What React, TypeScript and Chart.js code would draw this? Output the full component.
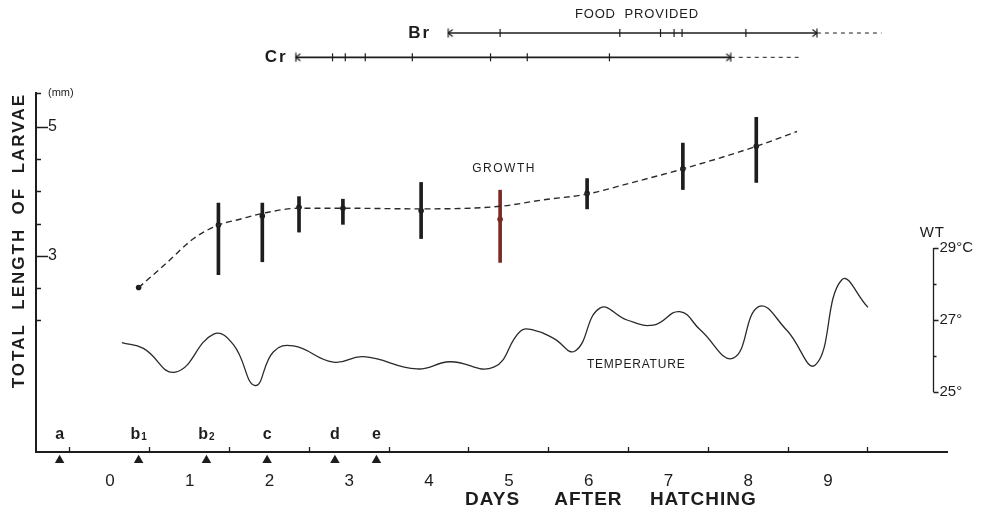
import React, { useEffect, useRef } from 'react';
import { Chart, registerables } from 'chart.js';

Chart.register(...registerables);

// ---------------- data ----------------
const dayLabels = ['0', '1', '2', '3', '4', '5', '6', '7', '8', '9'];

const growthDays = [0.86, 1.86, 2.41, 2.87, 3.42, 4.4, 5.39, 6.48, 7.68, 8.6];
const growthMean = [2.51, 3.48, 3.62, 3.755, 3.74, 3.7, 3.57, 3.97, 4.35, 4.7];
const growthHigh = [null, 3.82, 3.82, 3.92, 3.88, 4.14, 4.02, 4.2, 4.75, 5.15];
const growthLow = [null, 2.71, 2.91, 3.37, 3.49, 3.27, 2.9, 3.73, 4.03, 4.14];

const fitDays = [0.86, 1.21, 1.55, 1.86, 2.13, 2.41, 2.87, 3.42, 4.4, 5.39, 5.93, 6.48, 7.02, 7.68, 8.6, 9.11];
const fitLength = [2.51, 2.89, 3.27, 3.48, 3.57, 3.66, 3.74, 3.74, 3.73, 3.77, 3.87, 3.96, 4.13, 4.35, 4.7, 4.93];

const tempDays = [0.65, 0.92, 1.32, 1.8, 2.05, 2.32, 2.55, 2.8, 3.3, 3.68, 4.35, 4.76, 5.31, 5.64, 5.81, 6.06, 6.33, 6.64, 6.98, 7.31, 7.64, 7.9, 8.31, 8.63, 8.98, 9.34, 9.67, 10.0];
const tempValues = [26.37, 26.21, 25.55, 26.61, 26.31, 25.18, 26.12, 26.28, 25.83, 25.98, 25.64, 25.84, 25.69, 26.68, 26.72, 26.49, 26.14, 27.33, 27.0, 26.86, 27.23, 26.72, 25.94, 27.37, 26.72, 25.75, 28.11, 27.35];

const markerDays = [-0.13, 0.86, 1.71, 2.47, 3.32, 3.84];
const markerLabels = ['a', 'b1', 'b2', 'c', 'd', 'e'];

const brSpan = [4.74, 9.36];
const brTicks = [5.39, 6.89, 7.4, 7.57, 7.67, 8.47];
const brDashedEnd = 10.17;
const crSpan = [2.83, 8.28];
const crTicks = [3.29, 3.45, 3.7, 4.29, 5.27, 5.73, 6.76];
const crDashedEnd = 9.13;

const lengthTicks = [2, 2.5, 3, 3.5, 4, 4.5, 5];
const lengthLabelled = [3, 5];
const tempTicks = [25, 26, 27, 28, 29];
const tempLabels: Record<number, string> = { 25: '25°', 27: '27°', 29: '29°C' };

// ---------------- layout / style constants ----------------
const INK = '#1d1d1d';
const RED = '#7a2c24';
const FONT = "'Liberation Sans', Arial, sans-serif";
const X_MIN = -0.426;
const X_MAX = 10.99;
const Y_MIN = -0.04;
const Y_MAX = 5.527;
const T_MIN = 23.333;
const T_MAX = 33.306;
const BR_ROW = 6.457;
const CR_ROW = 6.08;
const FOOD_ROW = 6.74;
const MARKER_ROW = -0.167;
const MARKER_LABEL_ROW = 0.155;
const XTITLE_ROW = -0.78;
const WT_AXIS_X = 10.81;
const redIndex = 6;

function makeCap(dir: 'left' | 'right'): HTMLCanvasElement {
  const c = document.createElement('canvas');
  c.width = 14;
  c.height = 10;
  const g = c.getContext('2d')!;
  g.strokeStyle = INK;
  g.lineWidth = 1.2;
  g.beginPath();
  g.moveTo(7, 0.5);
  g.lineTo(7, 9.5);
  const tip = dir === 'left' ? 11.5 : 2.5;
  g.moveTo(tip, 1.5);
  g.lineTo(7, 5);
  g.lineTo(tip, 8.5);
  g.stroke();
  return c;
}

function text(ctx: CanvasRenderingContext2D, s: string, x: number, y: number, font: string, align: CanvasTextAlign = 'center', spacing = 0, baseline: CanvasTextBaseline = 'middle') {
  ctx.font = font;
  ctx.textAlign = align;
  ctx.textBaseline = baseline;
  (ctx as any).letterSpacing = spacing + 'px';
  ctx.fillText(s, x + (align === 'center' ? spacing / 2 : 0), y);
  (ctx as any).letterSpacing = '0px';
}

// lets marks that sit outside the plot frame (top spans, day markers) be drawn by the library
const wideAreaPlugin = {
  id: 'wideArea',
  beforeDatasetsDraw(chart: any) {
    chart.$savedArea = chart.chartArea;
    chart.chartArea = { left: 0, top: 0, right: chart.width, bottom: chart.height, width: chart.width, height: chart.height };
  },
  afterDatasetsDraw(chart: any) {
    if (chart.$savedArea) chart.chartArea = chart.$savedArea;
  },
};

const decorPlugin = {
  id: 'decor',
  afterDatasetsDraw(chart: any) {
    const { ctx } = chart;
    const chartArea = chart.$savedArea || chart.chartArea;
    const { x, y, y2 } = chart.scales;
    ctx.save();
    ctx.fillStyle = INK;
    ctx.strokeStyle = INK;

    // inward ticks of the length axis
    ctx.lineWidth = 1.4;
    ctx.beginPath();
    for (const v of [...lengthTicks, Y_MAX]) {
      const py = Math.round(y.getPixelForValue(v)) + 0.5;
      const len = lengthLabelled.includes(v) ? 12 : 5;
      ctx.moveTo(chartArea.left, py);
      ctx.lineTo(chartArea.left + len, py);
    }
    ctx.stroke();

    // y title
    ctx.save();
    ctx.translate(chartArea.left - 17, chartArea.top);
    ctx.rotate(-Math.PI / 2);
    text(ctx, 'TOTAL  LENGTH  OF  LARVAE', 0, 0, `bold 17px ${FONT}`, 'right', 2.0);
    ctx.restore();

    // x title
    const ty = y.getPixelForValue(XTITLE_ROW);
    text(ctx, 'DAYS', x.getPixelForValue(5.29), ty, `bold 19px ${FONT}`, 'center', 1);
    text(ctx, 'AFTER', x.getPixelForValue(6.49), ty, `bold 19px ${FONT}`, 'center', 1);
    text(ctx, 'HATCHING', x.getPixelForValue(7.93), ty, `bold 19px ${FONT}`, 'center', 1);

    // marker labels
    const my = y.getPixelForValue(MARKER_LABEL_ROW);
    markerLabels.forEach((lab, i) => {
      const px = x.getPixelForValue(markerDays[i]);
      const base = lab[0];
      const sub = lab.slice(1);
      ctx.font = `bold 16px ${FONT}`;
      const wb = ctx.measureText(base).width;
      ctx.font = `bold 10px ${FONT}`;
      const ws = sub ? ctx.measureText(sub).width + 1 : 0;
      const left = px - (wb + ws) / 2;
      text(ctx, base, left, my, `bold 16px ${FONT}`, 'left', 0, 'alphabetic');
      if (sub) text(ctx, sub, left + wb + 1, my + 1, `bold 10px ${FONT}`, 'left', 0, 'alphabetic');
    });

    // WT axis
    const wx = Math.round(x.getPixelForValue(WT_AXIS_X)) + 0.5;
    ctx.lineWidth = 1.3;
    ctx.beginPath();
    ctx.moveTo(wx, y2.getPixelForValue(29));
    ctx.lineTo(wx, y2.getPixelForValue(25));
    for (const t of tempTicks) {
      const py = Math.round(y2.getPixelForValue(t)) + 0.5;
      const len = tempLabels[t] ? 5 : 3;
      ctx.moveTo(wx, py);
      ctx.lineTo(wx + len, py);
    }
    ctx.stroke();
    for (const t of tempTicks) {
      if (!tempLabels[t]) continue;
      text(ctx, tempLabels[t], wx + 6, y2.getPixelForValue(t), `15px ${FONT}`, 'left');
    }
    text(ctx, 'WT', x.getPixelForValue(10.8), y2.getPixelForValue(29.42), `15px ${FONT}`, 'center', 1);

    // annotations
    text(ctx, 'GROWTH', x.getPixelForValue(5.43), y.getPixelForValue(4.36), `12px ${FONT}`, 'center', 1.5);
    text(ctx, 'TEMPERATURE', x.getPixelForValue(7.09), y2.getPixelForValue(25.75), `12px ${FONT}`, 'center', 0.8);
    text(ctx, 'FOOD  PROVIDED', x.getPixelForValue(7.1), y.getPixelForValue(FOOD_ROW), `13px ${FONT}`, 'center', 0.8);
    text(ctx, 'Br', x.getPixelForValue(4.37), y.getPixelForValue(BR_ROW), `bold 17px ${FONT}`, 'center', 2);
    text(ctx, 'Cr', x.getPixelForValue(2.57), y.getPixelForValue(CR_ROW), `bold 17px ${FONT}`, 'center', 2);

    ctx.restore();
  },
};

export default function App() {
  const ref = useRef<HTMLCanvasElement>(null);

  useEffect(() => {
    const canvas = ref.current;
    if (!canvas) return;
    const leftCap = makeCap('left');
    const rightCap = makeCap('right');

    const spanData = (span: number[], ticks: number[], row: number) =>
      [span[0], ...ticks, span[1]].map((d) => ({ x: d, y: row }));
    const capStyle = (n: number) => (c: any) => (c.dataIndex === 0 ? leftCap : c.dataIndex === n - 1 ? rightCap : 'line');
    const capRot = (n: number) => (c: any) => (c.dataIndex === 0 || c.dataIndex === n - 1 ? 0 : 90);
    const brN = brTicks.length + 2;
    const crN = crTicks.length + 2;

    const barIdx = growthDays.map((_, i) => i).filter((i) => growthHigh[i] != null);

    const chart = new Chart(canvas, {
      type: 'line',
      data: {
        datasets: [
          {
            type: 'line',
            data: tempDays.map((d, i) => ({ x: d, y: tempValues[i] })),
            yAxisID: 'y2',
            borderColor: '#2a2a2a',
            borderWidth: 1.3,
            tension: 0.45,
            pointRadius: 0,
          },
          {
            type: 'line',
            data: fitDays.map((d, i) => ({ x: d, y: fitLength[i] })),
            borderColor: '#2a2a2a',
            borderWidth: 1.4,
            borderDash: [6, 4],
            cubicInterpolationMode: 'monotone',
            pointRadius: 0,
          },
          {
            type: 'bar',
            data: barIdx.map((i) => ({ x: growthDays[i], y: [growthLow[i], growthHigh[i]] })),
            backgroundColor: barIdx.map((i) => (i === redIndex ? RED : INK)),
            barThickness: 3,
            grouped: false,
            borderWidth: 0,
          } as any,
          {
            type: 'scatter',
            data: growthDays.map((d, i) => ({ x: d, y: growthMean[i] })),
            pointRadius: 2.8,
            pointBorderWidth: 0,
            pointBackgroundColor: growthDays.map((_, i) => (i === redIndex ? RED : INK)),
            showLine: false,
          },
          {
            type: 'line',
            data: spanData(brSpan, brTicks, BR_ROW),
            borderColor: INK,
            borderWidth: 1.6,
            pointStyle: capStyle(brN) as any,
            pointRotation: capRot(brN) as any,
            pointRadius: 4,
            pointBorderWidth: 1.2,
            pointBorderColor: INK,
            clip: false,
          } as any,
          {
            type: 'line',
            data: spanData(crSpan, crTicks, CR_ROW),
            borderColor: INK,
            borderWidth: 1.6,
            pointStyle: capStyle(crN) as any,
            pointRotation: capRot(crN) as any,
            pointRadius: 4,
            pointBorderWidth: 1.2,
            pointBorderColor: INK,
            clip: false,
          } as any,
          {
            type: 'line',
            data: [{ x: brSpan[1], y: BR_ROW }, { x: brDashedEnd, y: BR_ROW }],
            borderColor: INK,
            borderWidth: 1,
            borderDash: [4, 4],
            pointRadius: 0,
            clip: false,
          } as any,
          {
            type: 'line',
            data: [{ x: crSpan[1], y: CR_ROW }, { x: crDashedEnd, y: CR_ROW }],
            borderColor: INK,
            borderWidth: 1,
            borderDash: [4, 4],
            pointRadius: 0,
            clip: false,
          } as any,
          {
            type: 'scatter',
            data: markerDays.map((d) => ({ x: d, y: MARKER_ROW })),
            pointStyle: 'triangle',
            pointRadius: 5.5,
            pointBorderWidth: 0,
            pointBackgroundColor: INK,
            clip: false,
          } as any,
        ],
      },
      options: {
        animation: false,
        responsive: false,
        maintainAspectRatio: false,
        layout: { padding: { left: 12, right: 35, top: 93, bottom: 0 } },
        plugins: { legend: { display: false }, tooltip: { enabled: false } },
        scales: {
          x: {
            type: 'linear',
            min: X_MIN,
            max: X_MAX,
            offset: false,
            afterBuildTicks: (s: any) => {
              const t: { value: number }[] = [];
              for (let k = 0; k <= dayLabels.length; k++) {
                t.push({ value: k });
                if (k < dayLabels.length) t.push({ value: k + 0.5 });
              }
              s.ticks = t;
            },
            ticks: {
              autoSkip: false,
              maxRotation: 0,
              padding: 23.8,
              color: INK,
              font: { family: FONT, size: 17 },
              callback: (v: any) => (Number.isInteger(v) ? '' : dayLabels[Math.floor(v)]),
            },
            grid: {
              display: true,
              offset: false,
              drawOnChartArea: false,
              drawTicks: true,
              tickLength: -5,
              tickWidth: 1.3,
              tickColor: (c: any) => (c.tick && Number.isInteger(c.tick.value) ? INK : 'rgba(0,0,0,0)'),
            },
            border: { display: true, color: INK, width: 2 },
          },
          y: {
            type: 'linear',
            min: Y_MIN,
            max: Y_MAX,
            afterBuildTicks: (s: any) => {
              s.ticks = [...lengthTicks, Y_MAX].map((v) => ({ value: v }));
            },
            ticks: {
              mirror: true,
              autoSkip: false,
              padding: 12,
              color: INK,
              font: (c: any) => (c.tick && c.tick.value > 5.2 ? { family: FONT, size: 11 } : { family: FONT, size: 16 }),
              callback: (v: any) => (v > 5.2 ? '(mm)' : lengthLabelled.includes(v) ? String(v) : ''),
            },
            grid: { display: false, drawTicks: false },
            border: { display: true, color: INK, width: 2 },
          },
          y2: {
            type: 'linear',
            display: false,
            min: T_MIN,
            max: T_MAX,
          },
        },
      } as any,
      plugins: [wideAreaPlugin, decorPlugin],
    });
    return () => chart.destroy();
  }, []);

  return (
    <div style={{ position: 'fixed', left: 0, top: 0, width: 982, height: 515, background: '#fff' }}>
      <canvas ref={ref} width={982} height={515} style={{ display: 'block' }} />
    </div>
  );
}
